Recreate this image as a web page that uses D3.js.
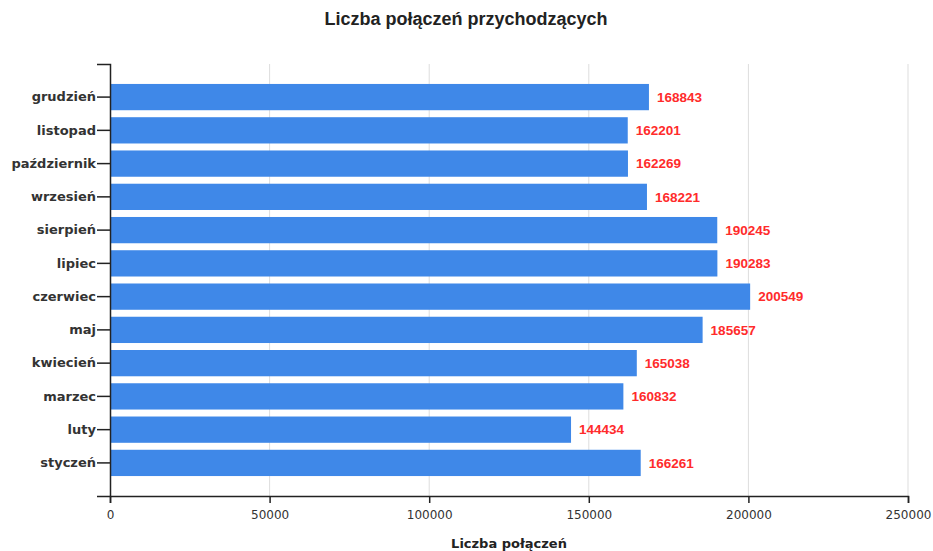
<!DOCTYPE html>
<html>
<head>
<meta charset="utf-8">
<script src="https://cdn.jsdelivr.net/npm/d3@7"></script>
<style>
  body { margin: 0; background: #fff; }
  text { font-family: "Liberation Sans", Arial, sans-serif; }
  .tahoma { font-family: "DejaVu Sans", Tahoma, Verdana, sans-serif; }
</style>
</head>
<body>
<script>
// Data: months (calendar order) and incoming call counts
const months = ["styczeń", "luty", "marzec", "kwiecień", "maj", "czerwiec",
                "lipiec", "sierpień", "wrzesień", "październik", "listopad", "grudzień"];
const calls = [166261, 144434, 160832, 165038, 185657, 200549,
               190283, 190245, 168221, 162269, 162201, 168843];
const xTicks = [0, 50000, 100000, 150000, 200000, 250000];

const width = 933, height = 551;
const margin = { top: 64, right: 25, bottom: 55, left: 110 };

const svg = d3.select("body").append("svg")
    .attr("width", width)
    .attr("height", height);

const x = d3.scaleLinear()
    .domain([0, 250000])
    .range([margin.left, 908]);

const y = d3.scaleBand()
    .domain(months.slice().reverse())
    .range([margin.top, 496])
    .paddingInner(0.21)
    .paddingOuter(0.6);

// Title
svg.append("text")
    .attr("x", 466)
    .attr("y", 25)
    .attr("text-anchor", "middle")
    .style("font-size", "18px")
    .style("font-weight", "bold")
    .attr("fill", "#222")
    .text("Liczba połączeń przychodzących");

// Vertical grid lines
svg.append("g")
    .selectAll("line")
    .data(xTicks.slice(1))
    .enter().append("line")
    .attr("x1", d => x(d)).attr("x2", d => x(d))
    .attr("y1", margin.top).attr("y2", 496)
    .attr("stroke", "#ddd")
    .attr("stroke-width", 1);

// Bars
svg.append("g")
    .selectAll("rect")
    .data(months)
    .enter().append("rect")
    .attr("x", x(0))
    .attr("y", d => y(d))
    .attr("width", (d, i) => x(calls[i]) - x(0))
    .attr("height", y.bandwidth())
    .attr("fill", "#3f88e8");

// Value labels
svg.append("g")
    .selectAll("text")
    .data(months)
    .enter().append("text")
    .attr("x", (d, i) => x(calls[i]) + 8)
    .attr("y", d => y(d) + y.bandwidth() / 2)
    .attr("dy", "0.35em")
    .style("font-size", "13.5px")
    .style("font-weight", "bold")
    .attr("fill", "#ff2b2b")
    .text((d, i) => calls[i]);

// X axis
const xAxis = svg.append("g")
    .attr("transform", "translate(0,496)")
    .call(d3.axisBottom(x).tickValues(xTicks).tickFormat(d3.format("d")).tickSize(7));
xAxis.select(".domain").attr("stroke", "#222").attr("stroke-width", 1.5);
xAxis.selectAll(".tick line").attr("stroke", "#222").attr("stroke-width", 1.5);
xAxis.selectAll("text")
    .attr("class", "tahoma")
    .attr("y", 14)
    .style("font-size", "12px")
    .attr("fill", "#333");

// Y axis
const yAxis = svg.append("g")
    .attr("transform", `translate(${margin.left},0)`)
    .call(d3.axisLeft(y).tickSize(13).tickPadding(1));
yAxis.select(".domain").attr("stroke", "#222").attr("stroke-width", 1.5);
yAxis.selectAll(".tick line").attr("stroke", "#222").attr("stroke-width", 1.5);
yAxis.selectAll("text")
    .attr("class", "tahoma")
    .style("font-size", "13px")
    .style("font-weight", "bold")
    .attr("fill", "#333");

// X axis title
svg.append("text")
    .attr("class", "tahoma")
    .attr("x", (x(0) + x(250000)) / 2)
    .attr("y", 548)
    .attr("text-anchor", "middle")
    .style("font-size", "13px")
    .style("font-weight", "bold")
    .attr("fill", "#222")
    .text("Liczba połączeń");
</script>
</body>
</html>
